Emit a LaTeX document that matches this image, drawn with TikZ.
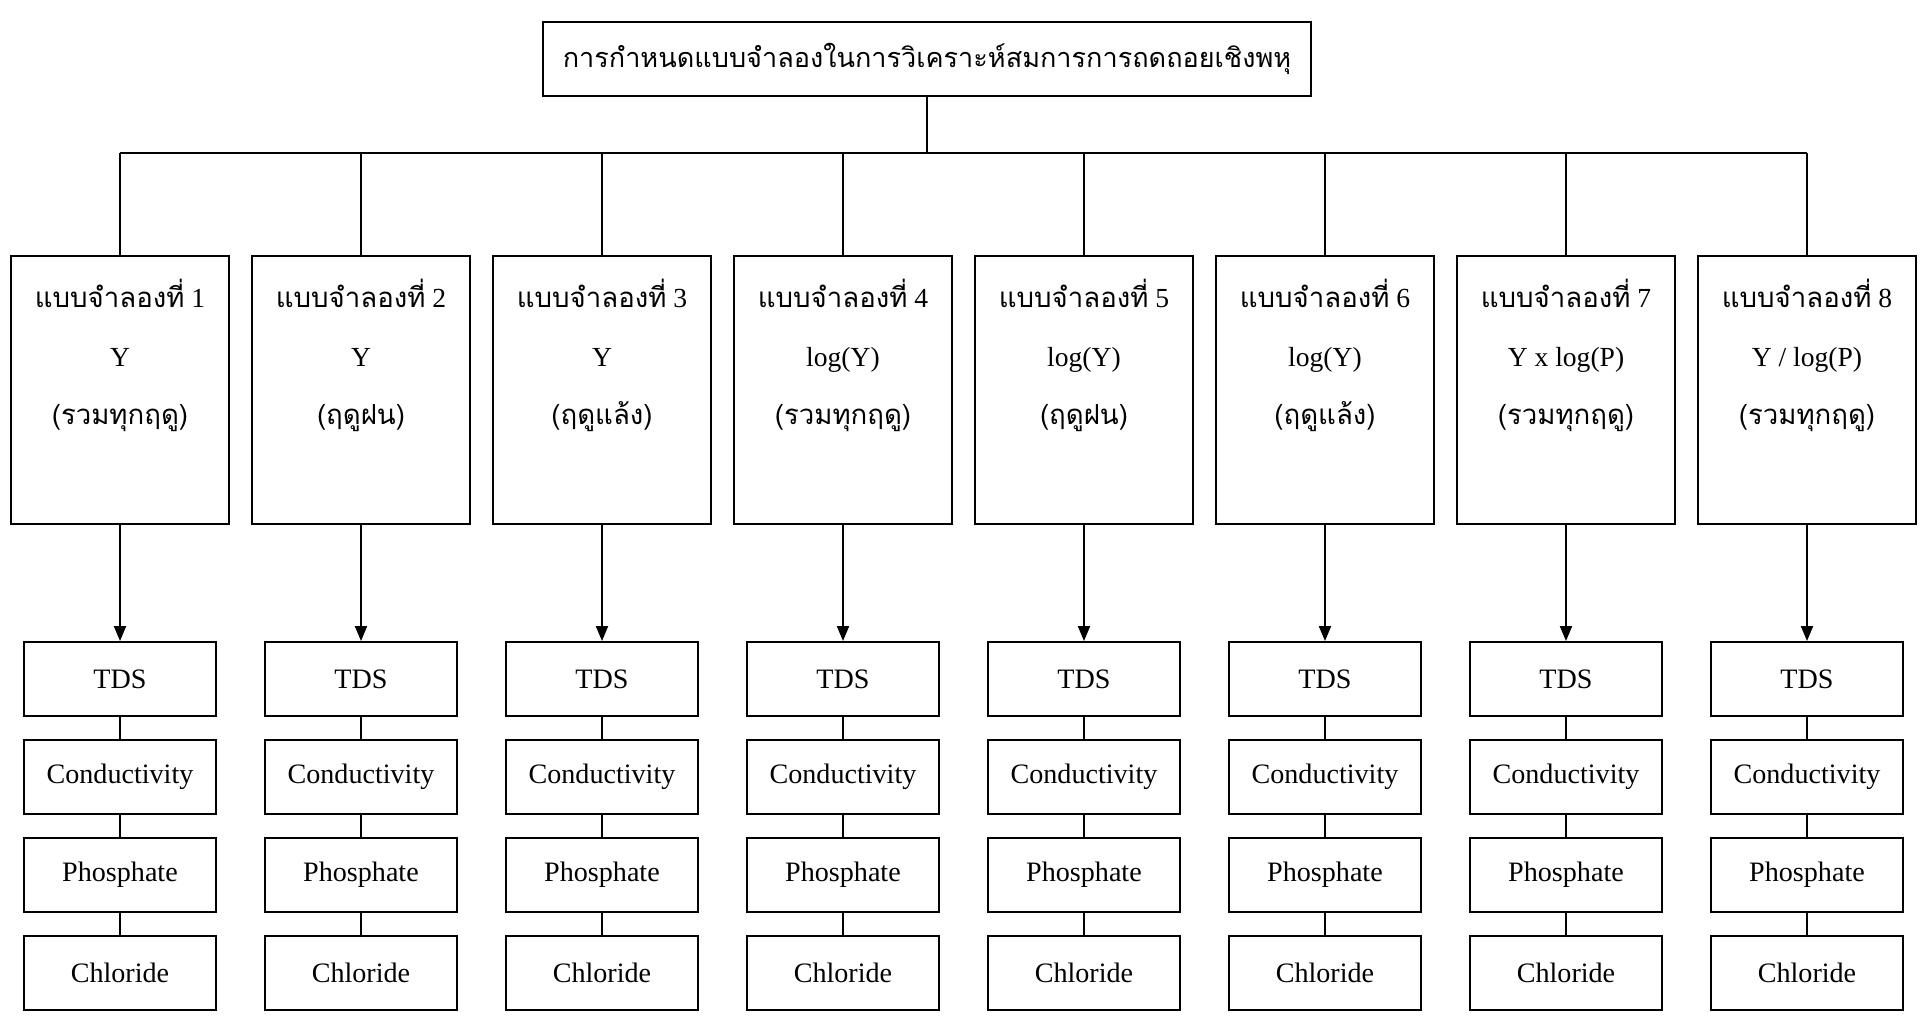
\documentclass[tikz,border=0pt]{standalone}
\usepackage{fontspec}
\setmainfont{Liberation Serif}
\newfontfamily\thaifont[Script=Thai]{Loma}
\usetikzlibrary{positioning,arrows.meta}

\begin{document}
\begin{tikzpicture}
	[x=0.02cm,y=-0.02cm,line width=1.1pt,>={Triangle[length=0.3cm,width=0.24cm]},
	titlebox/.style={draw,minimum width=15.36cm,minimum height=1.48cm,font=\fontsize{15.4}{18}\selectfont},
	modelbox/.style={draw,minimum width=4.36cm,minimum height=5.36cm},
	modeltext/.style={align=center,font=\fontsize{15.7}{33.5}\selectfont},
	varbox/.style={draw,minimum width=3.84cm,minimum height=1.48cm,font=\fontsize{16}{18}\selectfont},
	node distance=0.44cm]
\useasboundingbox (0,0) rectangle (1925,1022);
\node[titlebox] (title) at (927,59) {\thaifont การกำหนดแบบจำลองในการวิเคราะห์สมการการถดถอยเชิงพหุ};
\coordinate (bus) at (927,153);
\draw (title) -- (bus);
\foreach \i/\v/\s in {1/Y/รวมทุกฤดู,2/Y/ฤดูฝน,3/Y/ฤดูแล้ง,4/log(Y)/รวมทุกฤดู,
	5/log(Y)/ฤดูฝน,6/log(Y)/ฤดูแล้ง,7/Y x log(P)/รวมทุกฤดู,8/{Y / log(P)}/รวมทุกฤดู}
{
	\node[modelbox] (m\i) at (120+241*\i-241,390) {};
	\node[modeltext,below=0.34cm of m\i.north] (t\i) {{\thaifont แบบจำลองที่} \i\\ \v\\ {\thaifont (\s)}};
	% stack of variables
	\node[varbox] (tds\i) at (120+241*\i-241,679) {TDS};
	\node[varbox,below=of tds\i] (con\i) {Conductivity};
	\node[varbox,below=of con\i] (pho\i) {Phosphate};
	\node[varbox,below=of pho\i] (chl\i) {Chloride};
	\draw (m\i.north |- bus) -- (m\i.north);
	\draw[->] (m\i) -- (tds\i);
	\draw (tds\i) -- (con\i) (con\i) -- (pho\i) (pho\i) -- (chl\i);
}
\draw (m1.north |- bus) -- (m8.north |- bus);
\end{tikzpicture}
\end{document}
